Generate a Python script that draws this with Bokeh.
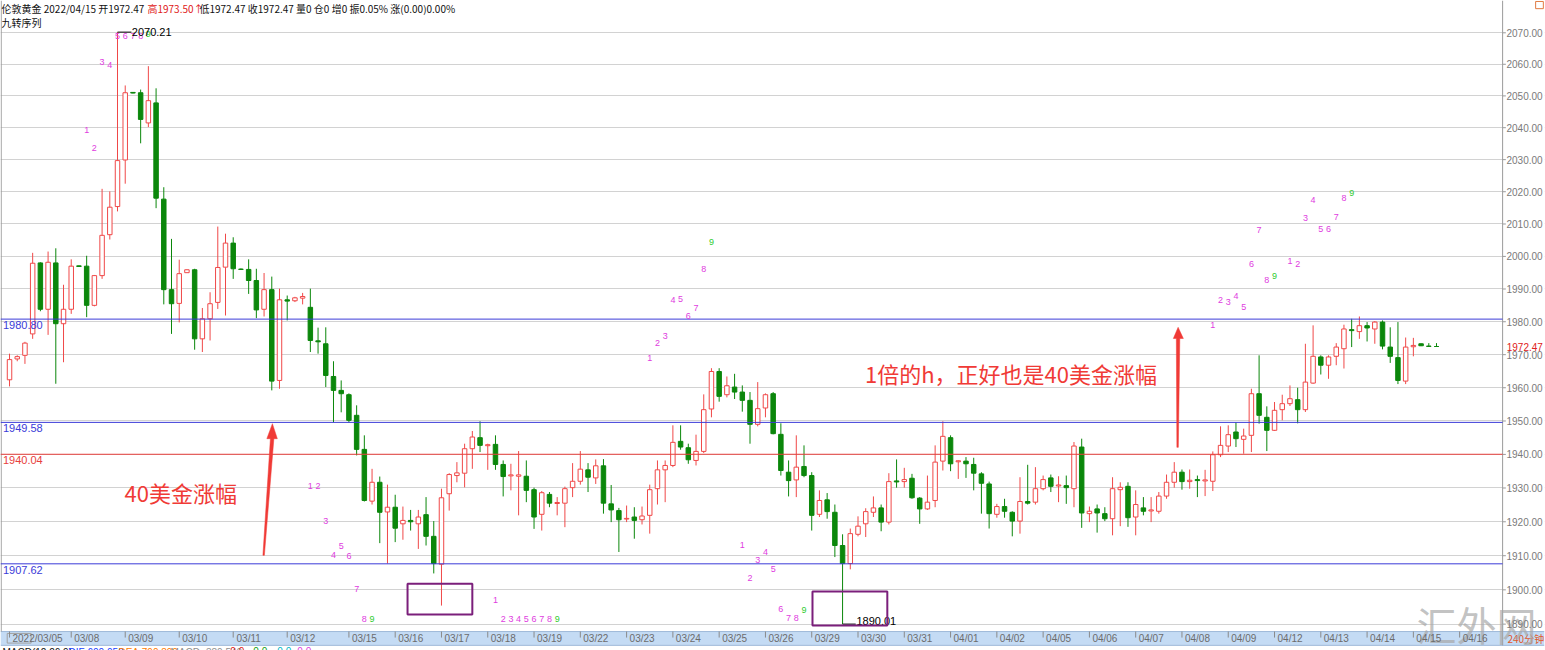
from bokeh.plotting import figure
from bokeh.models import Range1d, FixedTicker, PrintfTickFormatter, Label
from bokeh.core.properties import value
from bokeh.embed import file_html
from bokeh.resources import INLINE

# ---- 4-hour London gold candles (index = bar number) ----
opens = [1962.4, 1968.7, 1969.8, 1976.3, 1998.0, 1983.8, 1998.0, 1979.4, 1983.8, 1997.1,
         1997.0, 1985.0, 1994.1, 2006.7, 2015.4, 2029.9, 2051.1, 2051.0, 2041.5, 2047.8,
         2017.7, 1989.8, 1985.6, 1995.0, 1995.9, 1974.8, 1980.9, 1985.9, 1996.7, 2004.1,
         1996.1, 1996.0, 1992.6, 1983.8, 1989.8, 1962.2, 1986.7, 1986.4, 1987.2, 1984.4,
         1974.2, 1973.3, 1963.4, 1959.2, 1957.9, 1951.7, 1941.5, 1926.1, 1931.7, 1922.9,
         1924.3, 1919.4, 1920.4, 1919.4, 1922.1, 1915.7, 1907.5, 1928.3, 1933.7, 1934.4,
         1941.7, 1945.0, 1942.6, 1943.0, 1937.0, 1933.6, 1933.5, 1933.5, 1929.5, 1922.2,
         1928.1, 1925.4, 1925.5, 1930.1, 1932.0, 1935.4, 1933.0, 1936.6, 1925.3, 1923.3,
         1920.8, 1921.4, 1920.6, 1921.9, 1929.8, 1935.4, 1936.7, 1943.9, 1942.0, 1938.2,
         1940.9, 1953.6, 1964.9, 1957.9, 1960.2, 1958.7, 1956.2, 1949.0, 1953.9, 1958.2,
         1946.0, 1934.7, 1932.4, 1936.4, 1933.7, 1922.2, 1926.5, 1922.8, 1913.0, 1907.7,
         1916.3, 1919.4, 1922.8, 1924.1, 1919.9, 1932.1, 1931.9, 1932.9, 1927.0, 1923.8,
         1926.3, 1938.0, 1945.0, 1937.8, 1938.0, 1937.0, 1934.2, 1931.2, 1922.2, 1924.5,
         1922.8, 1920.2, 1926.0, 1925.8, 1929.8, 1933.0, 1930.6, 1930.7, 1929.8, 1942.2,
         1922.4, 1923.8, 1922.4, 1920.9, 1929.5, 1930.5, 1921.4, 1924.1, 1923.2, 1923.1,
         1927.6, 1931.7, 1934.7, 1931.9, 1932.5, 1932.1, 1932.0, 1939.9, 1942.5, 1946.7,
         1944.5, 1945.7, 1958.2, 1951.1, 1947.2, 1953.4, 1955.2, 1956.4, 1953.4, 1961.4,
         1969.3, 1966.8, 1969.5, 1971.8, 1977.6, 1977.0, 1978.8, 1977.8, 1979.9, 1972.3,
         1969.1, 1962.0, 1972.4, 1973.3, 1972.6, 1972.47]

highs = [1970.3, 1969.8, 1973.9, 2001.1, 1998.2, 2001.5, 2002.5, 1991.3, 1999.1, 1997.2,
         2000.2, 1994.3, 2020.9, 2020.1, 2070.21, 2053.3, 2051.2, 2052.0, 2059.4, 2052.4,
         2021.4, 2005.4, 1999.0, 1996.0, 1996.2, 1984.2, 1989.0, 2009.2, 2007.0, 2005.9,
         1996.3, 1999.1, 1996.2, 1994.9, 1993.8, 1990.1, 1988.0, 1987.6, 1988.8, 1990.1,
         1978.2, 1978.3, 1968.0, 1962.2, 1958.3, 1954.7, 1945.7, 1935.7, 1933.4, 1931.0,
         1928.0, 1924.5, 1923.5, 1923.5, 1927.3, 1920.2, 1929.8, 1934.4, 1937.7, 1943.2,
         1947.0, 1949.9, 1943.2, 1945.7, 1938.2, 1937.2, 1941.0, 1938.2, 1930.1, 1929.1,
         1928.8, 1927.3, 1930.4, 1937.4, 1941.0, 1937.4, 1938.5, 1938.6, 1930.9, 1924.1,
         1924.8, 1924.3, 1924.5, 1931.0, 1938.2, 1938.2, 1948.7, 1948.7, 1943.2, 1945.9,
         1958.0, 1965.9, 1965.9, 1963.4, 1964.2, 1960.7, 1958.7, 1961.7, 1958.3, 1958.7,
         1949.3, 1938.2, 1945.7, 1942.7, 1934.7, 1929.3, 1928.5, 1925.1, 1916.3, 1918.0,
         1921.6, 1924.0, 1927.5, 1925.1, 1934.4, 1938.5, 1936.0, 1934.2, 1927.3, 1933.7,
         1942.7, 1949.9, 1945.7, 1938.2, 1939.2, 1939.0, 1934.7, 1931.9, 1925.3, 1926.8,
         1923.1, 1933.2, 1936.9, 1936.2, 1933.7, 1934.0, 1933.5, 1933.7, 1943.7, 1944.7,
         1924.5, 1925.1, 1924.3, 1933.2, 1931.7, 1931.7, 1929.3, 1927.3, 1927.3, 1928.8,
         1934.0, 1937.7, 1935.5, 1935.5, 1933.7, 1935.4, 1940.9, 1948.4, 1948.7, 1949.6,
         1947.7, 1959.7, 1969.8, 1954.4, 1955.7, 1957.9, 1960.7, 1960.0, 1973.3, 1978.9,
         1969.8, 1969.8, 1973.5, 1979.1, 1980.9, 1981.6, 1979.9, 1980.2, 1980.4, 1978.3,
         1979.9, 1975.2, 1975.1, 1973.4, 1973.5, 1973.50]

lows = [1960.4, 1968.0, 1967.2, 1974.8, 1983.2, 1976.0, 1961.2, 1967.7, 1982.4, 1996.8,
        1981.4, 1984.7, 1993.1, 2005.2, 2013.9, 2022.5, 2050.8, 2035.1, 2040.2, 2014.9,
        1985.3, 1976.3, 1979.8, 1994.9, 1971.5, 1970.8, 1974.3, 1983.9, 1981.9, 1993.1,
        1995.9, 1988.5, 1981.1, 1981.6, 1959.2, 1959.7, 1980.4, 1986.0, 1985.3, 1970.8,
        1970.3, 1960.2, 1949.6, 1952.6, 1949.6, 1939.7, 1926.0, 1925.1, 1913.7, 1907.7,
        1914.0, 1914.7, 1917.4, 1912.0, 1913.0, 1904.8, 1895.4, 1923.3, 1931.7, 1930.2,
        1935.7, 1940.7, 1935.4, 1935.4, 1927.5, 1929.3, 1921.9, 1925.8, 1917.9, 1917.4,
        1924.3, 1921.9, 1918.4, 1927.3, 1931.0, 1928.8, 1931.2, 1922.4, 1919.9, 1911.1,
        1919.9, 1915.0, 1919.2, 1916.5, 1925.1, 1925.8, 1936.2, 1941.4, 1937.2, 1936.7,
        1940.4, 1951.1, 1955.8, 1957.1, 1956.6, 1952.8, 1943.2, 1948.4, 1951.1, 1946.0,
        1933.7, 1927.5, 1927.3, 1933.2, 1917.4, 1921.4, 1920.9, 1909.6, 1890.01, 1906.0,
        1915.7, 1915.5, 1921.4, 1917.2, 1919.2, 1930.1, 1930.1, 1926.8, 1919.4, 1923.5,
        1924.3, 1935.2, 1935.0, 1932.7, 1933.0, 1929.3, 1922.4, 1918.0, 1921.2, 1921.2,
        1915.7, 1916.5, 1925.1, 1925.1, 1929.3, 1928.8, 1925.8, 1925.3, 1924.3, 1918.2,
        1919.9, 1916.8, 1920.2, 1916.0, 1918.7, 1918.5, 1916.0, 1921.9, 1919.9, 1922.4,
        1926.8, 1930.1, 1929.5, 1929.8, 1927.3, 1927.6, 1929.1, 1939.2, 1940.7, 1942.2,
        1940.2, 1940.7, 1949.2, 1941.0, 1947.0, 1950.2, 1954.5, 1949.3, 1952.7, 1961.2,
        1964.0, 1962.7, 1966.8, 1965.8, 1972.3, 1974.8, 1974.0, 1973.3, 1971.6, 1967.5,
        1961.1, 1961.1, 1969.5, 1972.6, 1972.5, 1972.47]

closes = [1968.5, 1969.4, 1973.5, 1997.9, 1983.8, 1998.2, 1979.4, 1983.8, 1997.0, 1996.9,
          1985.0, 1994.1, 2006.5, 2015.2, 2029.7, 2051.0, 2050.9, 2042.6, 2048.5, 2018.0,
          1989.8, 1985.5, 1994.7, 1995.9, 1974.8, 1980.9, 1985.5, 1996.6, 2004.1, 1996.2,
          1996.0, 1992.6, 1983.6, 1989.8, 1962.0, 1986.7, 1986.3, 1987.3, 1987.7, 1974.3,
          1973.9, 1963.7, 1959.2, 1958.2, 1950.2, 1941.5, 1926.3, 1931.7, 1922.8, 1924.3,
          1918.1, 1920.4, 1920.0, 1921.4, 1915.7, 1907.7, 1927.1, 1934.0, 1934.5, 1941.7,
          1945.2, 1942.7, 1942.9, 1937.0, 1933.4, 1933.9, 1933.9, 1929.3, 1921.4, 1928.6,
          1925.5, 1925.7, 1929.8, 1932.0, 1935.6, 1933.2, 1936.6, 1925.5, 1923.5, 1920.6,
          1921.0, 1920.4, 1921.7, 1929.5, 1935.4, 1936.7, 1943.6, 1942.2, 1938.4, 1940.9,
          1953.4, 1964.9, 1957.4, 1960.6, 1958.7, 1956.2, 1949.0, 1953.7, 1957.9, 1946.2,
          1935.2, 1932.2, 1936.2, 1933.7, 1921.9, 1926.3, 1923.0, 1913.0, 1907.7, 1916.5,
          1918.7, 1923.0, 1924.1, 1919.9, 1931.9, 1931.8, 1932.5, 1927.1, 1923.8, 1925.8,
          1937.7, 1945.4, 1937.2, 1938.1, 1937.2, 1934.4, 1931.4, 1922.4, 1924.5, 1923.1,
          1920.2, 1926.0, 1925.5, 1929.8, 1932.5, 1930.5, 1930.9, 1930.1, 1942.5, 1922.6,
          1923.1, 1922.6, 1920.9, 1929.8, 1930.2, 1921.2, 1925.1, 1923.1, 1923.5, 1927.6,
          1931.7, 1934.7, 1931.9, 1932.3, 1932.2, 1932.4, 1939.9, 1942.7, 1945.9, 1944.7,
          1945.5, 1958.2, 1951.7, 1947.2, 1953.2, 1955.2, 1956.7, 1953.4, 1961.7, 1969.5,
          1966.8, 1969.3, 1972.3, 1977.8, 1977.3, 1978.8, 1978.1, 1979.9, 1972.6, 1969.5,
          1962.2, 1972.3, 1972.8, 1972.7, 1972.5, 1972.47]

# trading-day boundaries on the bar index axis
day_ticks = [0, 8, 15, 22, 29, 36, 44, 50, 56, 62, 68, 74, 80, 86, 92, 98, 104, 110,
             116, 122, 128, 134, 140, 146, 152, 158, 164, 170, 176, 182, 188]
day_labels = ["2022/03/05", "03/08", "03/09", "03/10", "03/11", "03/12", "03/15", "03/16",
              "03/17", "03/18", "03/19", "03/22", "03/23", "03/24", "03/25", "03/26",
              "03/29", "03/30", "03/31", "04/01", "04/02", "04/05", "04/06", "04/07",
              "04/08", "04/09", "04/12", "04/13", "04/14", "04/15", "04/16"]

price_ticks = list(range(1890, 2071, 10))

# nine-turn (TD sequential) counts: bar, price position, count
td_bar = [10, 11, 12, 13, 14, 15, 16, 17, 18,
          39, 40, 41, 42, 43, 44, 45, 46, 47,
          63, 64, 65, 66, 67, 68, 69, 70, 71,
          83, 84, 85, 86, 87, 88, 89, 90, 91,
          95, 96, 97, 98, 99, 100, 101, 102, 103,
          156, 157, 158, 159, 160, 161, 162, 163, 164,
          166, 167, 168, 169, 170, 171, 172, 173, 174]
td_price = [2039.4, 2033.5, 2060.6, 2059.9, 2069.1, 2069.1, 2069.1, 2069.1, 2069.6,
            1930.7, 1930.7, 1920.2, 1910.1, 1912.8, 1909.8, 1900.1, 1891.5, 1891.5,
            1897.1, 1891.5, 1891.5, 1891.5, 1891.5, 1891.5, 1891.5, 1891.5, 1891.5,
            1969.0, 1973.6, 1975.8, 1986.5, 1986.8, 1981.6, 1984.1, 1996.0, 2004.4,
            1913.2, 1903.5, 1908.6, 1911.2, 1906.2, 1894.5, 1891.7, 1891.7, 1894.0,
            1979.1, 1986.5, 1986.0, 1987.8, 1984.4, 1997.7, 2008.0, 1992.8, 1994.1,
            1998.7, 1997.8, 2011.8, 2017.3, 2008.3, 2008.3, 2012.3, 2018.0, 2019.5]
td_count = [str(n) for n in range(1, 10)] * 7

# reference levels
level_values = [1980.80, 1949.58, 1940.04, 1907.62]
level_colors = ["#3b3bd8", "#3b3bd8", "#e8403c", "#3b3bd8"]

UP_C = "#f04848"
DOWN_C = "#0b870b"
ANNOT_RED = "#f03a36"
BAND = "#c4dbf4"
NUM = "Liberation Sans"
CJK = "Noto Sans CJK SC"

# chart geometry in data units (bar index / price)
X0, X1 = -1.17, 199.0            # full canvas width
Y_TOP, Y_BOT = 2080.31, 1882.35  # full canvas height (log price)
AX_X = 193.57                    # price-axis line
BAND_TOP, BAND_BOT = 1887.85, 1883.84

bars = list(range(len(opens)))
rising = [c > o for o, c in zip(opens, closes)]
bar_colors = [UP_C if r else DOWN_C for r in rising]

p = figure(width=1545, height=650,
           x_range=Range1d(X0, X1), y_range=Range1d(Y_BOT, Y_TOP),
           y_axis_type="log", y_axis_location="right",
           output_backend="svg", toolbar_location=None,
           min_border_left=0, min_border_top=0, min_border_right=0, min_border_bottom=0,
           background_fill_color="white", border_fill_color="white",
           outline_line_color=None)

# price axis: labels drawn inside the right-hand column
yticker = FixedTicker(ticks=price_ticks)
yax = p.yaxis[0]
yax.ticker = yticker
yax.formatter = PrintfTickFormatter(format="%.2f")
yax.major_label_text_font = NUM
yax.major_label_text_font_size = "10px"
yax.major_label_text_color = "#7a7a7a"
yax.axis_line_color = None
yax.major_tick_line_color = None
yax.major_tick_out = 0
yax.major_tick_in = 0
yax.minor_tick_line_color = None
yax.major_label_standoff = -38
p.ygrid.ticker = yticker
p.ygrid.grid_line_color = "#d2d2d2"
p.ygrid.grid_line_width = 1.2
p.xgrid.visible = False


def label_width(s):
    return sum(2.78 if ch == "/" else 5.56 for ch in s)


# date axis: each label sits just right of its day boundary, inside the band
label_pos = [t + (label_width(s) / 2 + 3) / 7.718 for t, s in zip(day_ticks, day_labels)]
xax = p.xaxis[0]
xax.ticker = FixedTicker(ticks=label_pos)
xax.major_label_overrides = {pos: lab for pos, lab in zip(label_pos, day_labels)}
xax.major_label_text_font = NUM
xax.major_label_text_font_size = "10px"
xax.major_label_text_color = "#6c6c6c"
xax.major_tick_out = 0
xax.major_tick_in = 0
xax.major_tick_line_color = None
xax.minor_tick_line_color = None
xax.axis_line_color = None
xax.major_label_standoff = -18

# blank price-axis column and the date band
p.quad(left=[AX_X], right=[X1], bottom=[BAND_TOP], top=[Y_TOP],
       fill_color="white", line_color=None)
p.quad(left=[X0], right=[X1], bottom=[BAND_BOT], top=[BAND_TOP],
       fill_color=BAND, line_color=None)
p.segment(x0=[X0, X0], y0=[BAND_TOP, BAND_BOT], x1=[X1, X1], y1=[BAND_TOP, BAND_BOT],
          line_color="#9fb9d9", line_width=1)
# first date gets a small outlined box
p.quad(left=[-0.3], right=[2.8], bottom=[1884.5], top=[1887.3],
       fill_color=None, line_color="#a0a0a0", line_width=1)
# day boundary marks
p.segment(x0=day_ticks, y0=[BAND_TOP] * len(day_ticks), x1=day_ticks,
          y1=[1886.1] * len(day_ticks), line_color="#8a8a8a", line_width=1)
# frame edges and price-axis line with its ticks
p.segment(x0=[AX_X, -1.08], y0=[Y_TOP, Y_TOP], x1=[AX_X, -1.08], y1=[BAND_BOT, BAND_TOP],
          line_color="#9a9a9a", line_width=1)
p.segment(x0=[AX_X] * len(price_ticks), y0=price_ticks,
          x1=[AX_X + 0.42] * len(price_ticks), y1=price_ticks,
          line_color="#9a9a9a", line_width=1)

# wicks, then bodies
p.segment(x0=bars, y0=lows, x1=bars, y1=highs, line_color=bar_colors, line_width=1)
up_x = [i for i in bars if rising[i]]
dn_x = [i for i in bars if not rising[i]]
p.vbar(x=up_x, width=0.58,
       top=[closes[i] for i in up_x], bottom=[opens[i] for i in up_x],
       fill_color="white", line_color=UP_C, line_width=1)
p.vbar(x=dn_x, width=0.58,
       top=[opens[i] for i in dn_x], bottom=[closes[i] for i in dn_x],
       fill_color=DOWN_C, line_color=DOWN_C, line_width=1)

# horizontal reference levels with their labels
p.segment(x0=[X0] * 4, y0=level_values, x1=[AX_X] * 4, y1=level_values,
          line_color=level_colors, line_width=1)
p.text(x=[-0.85] * 4, y=level_values, text=["%.2f" % v for v in level_values],
       text_color=level_colors, text_font=value(NUM), text_font_size="11px",
       text_baseline="top", y_offset=2)

# nine-turn counts
td_colors = ["#2fcc2f" if c == "9" else "#e03ce0" for c in td_count]
p.text(x=td_bar, y=td_price, text=td_count, text_color=td_colors,
       text_font=value(NUM), text_font_size="9px",
       text_align="center", text_baseline="middle")

# extreme markers
hi_bar = highs.index(max(highs))
lo_bar = lows.index(min(lows))
p.segment(x0=[hi_bar, lo_bar], y0=[max(highs), min(lows)],
          x1=[hi_bar + 1.8, lo_bar + 1.7], y1=[max(highs), min(lows)],
          line_color="black", line_width=1)
p.text(x=[hi_bar + 1.85], y=[max(highs)], text=["%.2f" % max(highs)],
       text_font=value(NUM), text_font_size="11px", text_color="black",
       text_baseline="middle")
p.text(x=[lo_bar + 1.8], y=[min(lows)], text=["%.2f" % min(lows)],
       text_font=value(NUM), text_font_size="11px", text_color="black",
       text_baseline="bottom", y_offset=1)

# boxes around the two lows
p.quad(left=[51.6, 104.1], right=[60.0, 113.8],
       bottom=[1892.8, 1889.6], top=[1901.8, 1899.5],
       fill_color=None, line_color="#7b1f7b", line_width=2)

# hand-drawn red arrows
p.patch(x=[34.08, 34.72, 34.27, 33.04, 32.85, 33.82, 33.36],
        y=[1949.2, 1944.7, 1944.7, 1910.1, 1910.1, 1944.7, 1944.7],
        fill_color=ANNOT_RED, line_color=ANNOT_RED, line_width=0.5)
p.patch(x=[151.5, 152.18, 151.72, 151.53, 151.34, 151.27, 150.88],
        y=[1978.3, 1974.9, 1974.9, 1942.1, 1942.1, 1974.9, 1974.9],
        fill_color=ANNOT_RED, line_color=ANNOT_RED, line_width=0.5)

# commentary
p.text(x=[14.9, 110.9], y=[1928.7, 1964.3],
       text=["40美金涨幅", "1倍的h，正好也是40美金涨幅"],
       text_color=ANNOT_RED, text_font=value(CJK), text_font_size="22px",
       text_baseline="middle")

# quote header
p.text(x=[-1.04, 17.88, 24.62], y=[2077.9] * 3,
       text=["伦敦黄金 2022/04/15 开1972.47", "高1973.50↑",
             "低1972.47 收1972.47 量0 仓0 增0 振0.05% 涨(0.00)0.00%"],
       text_color=["#111111", "#e02020", "#111111"],
       text_font=value(CJK), text_font_size="10px", text_baseline="middle")
p.text(x=[-1.04], y=[2073.4], text=["九转序列"], text_color="#111111",
       text_font=value(CJK), text_font_size="10px", text_baseline="middle")
# small window icon in the top-right corner
p.quad(left=[197.85], right=[198.85], bottom=[2077.7], top=[2080.0],
       fill_color=None, line_color="#e07a40", line_width=1)

# period tag in the date band
p.text(x=[194.2], y=[1885.8], text=["240分钟"], text_color="#e0582a",
       text_font=value(CJK), text_font_size="10px", text_baseline="middle")

# MACD readout line (mostly below the canvas edge)
macd_x = [-0.91, 7.65, 14.12, 20.86, 28.63, 31.61, 34.72, 37.31]
macd_text = ["MACD(12,26,9)", "DIF:600.050↓", "DEA:790.890↓", "MACD:-380.540↓",
             "0.0", "0.0", "0.0", "0.0"]
macd_col = ["#111111", "#2040ff", "#ff7a00", "#909090", "#e02020", "#10a010", "#00b8c8", "#e03ce0"]
p.text(x=macd_x, y=[1883.5] * len(macd_x), text=macd_text, text_color=macd_col,
       text_font=value(NUM), text_font_size="10px", text_baseline="top")

# site watermark
p.text(x=[182.4], y=[1889.9], text=["汇外网"], text_color="#a8a8a8", text_alpha=0.7,
       text_font=value(CJK), text_font_size="40px", text_font_style="normal",
       text_baseline="middle")

# last price tag on the price axis
p.add_layout(Label(x=194.1, y=closes[-1], text="%.2f" % closes[-1],
                   text_color="#e02020", text_font=NUM, text_font_size="10px",
                   text_baseline="middle", background_fill_color="white"))

open("out.html", "w").write(file_html(p, INLINE))
